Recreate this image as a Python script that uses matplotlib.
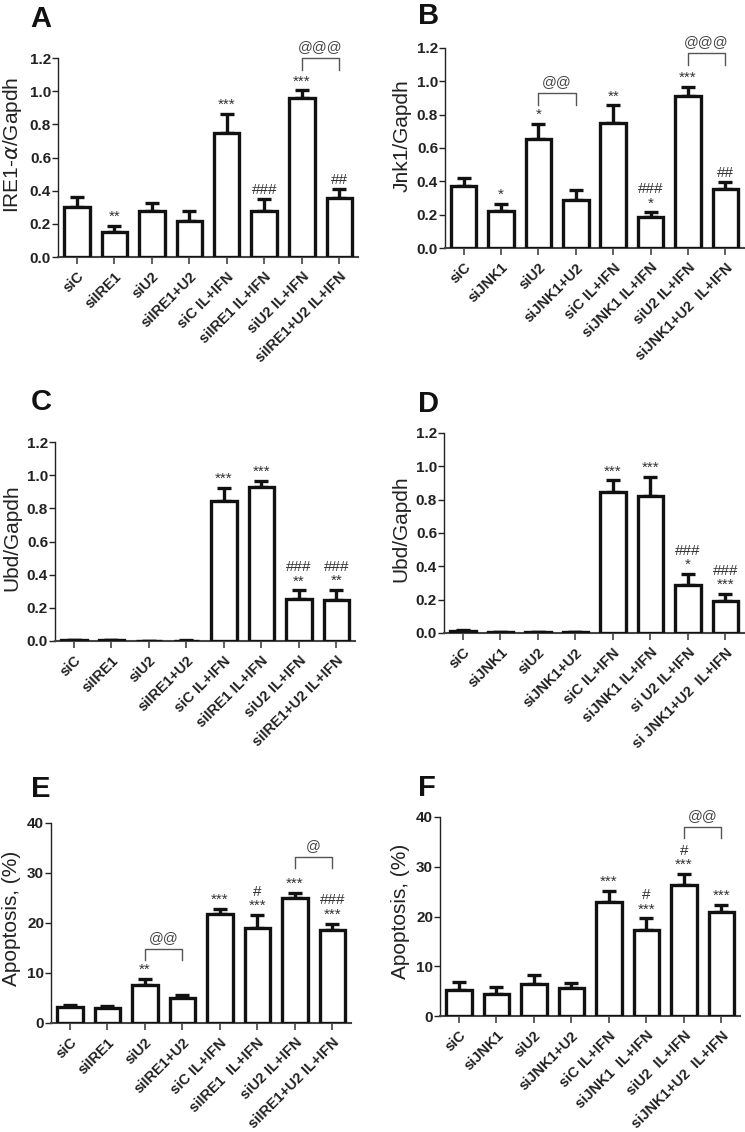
import matplotlib
matplotlib.use("Agg")
import matplotlib.pyplot as plt
import numpy as np

plt.rcParams['font.family'] = ['Liberation Sans', 'DejaVu Sans']
plt.rcParams['mathtext.fontset'] = 'dejavusans'

# ---- data ----
labels_a = ["siC", "siIRE1", "siU2", "siIRE1+U2", "siC IL+IFN", "siIRE1 IL+IFN",
            "siU2 IL+IFN", "siIRE1+U2 IL+IFN"]
mean_a = [0.30, 0.15, 0.28, 0.215, 0.745, 0.275, 0.96, 0.355]
err_a = [0.06, 0.037, 0.045, 0.065, 0.12, 0.072, 0.045, 0.055]
stars_a = ["", "**", "", "", "***", "###", "***", "##"]

labels_b = ["siC", "siJNK1", "siU2", "siJNK1+U2", "siC IL+IFN", "siJNK1 IL+IFN",
            "siU2 IL+IFN", "siJNK1+U2  IL+IFN"]
mean_b = [0.37, 0.22, 0.655, 0.285, 0.75, 0.185, 0.91, 0.355]
err_b = [0.05, 0.045, 0.09, 0.06, 0.105, 0.028, 0.058, 0.042]
stars_b = ["", "*", "*", "", "**", "###\n*", "***", "##"]

labels_c = ["siC", "siIRE1", "siU2", "siIRE1+U2", "siC IL+IFN", "siIRE1 IL+IFN",
            "siU2 IL+IFN", "siIRE1+U2 IL+IFN"]
mean_c = [0.004, 0.004, 0.0, 0.003, 0.845, 0.93, 0.255, 0.245]
err_c = [0.002, 0.002, 0.0, 0.002, 0.077, 0.035, 0.05, 0.065]
stars_c = ["", "", "", "", "***", "***", "###\n**", "###\n**"]

labels_d = ["siC", "siJNK1", "siU2", "siJNK1+U2", "siC IL+IFN", "siJNK1 IL+IFN",
            "si U2 IL+IFN", "si JNK1+U2  IL+IFN"]
mean_d = [0.01, 0.004, 0.004, 0.005, 0.845, 0.82, 0.29, 0.19]
err_d = [0.005, 0.002, 0.002, 0.002, 0.07, 0.115, 0.065, 0.045]
stars_d = ["", "", "", "", "***", "***", "###\n*", "###\n***"]

labels_e = ["siC", "siIRE1", "siU2", "siIRE1+U2", "siC IL+IFN", "siIRE1  IL+IFN",
            "siU2 IL+IFN", "siIRE1+U2 IL+IFN"]
mean_e = [3.2, 3.0, 7.7, 5.0, 21.8, 19.1, 25.0, 18.7]
err_e = [0.4, 0.5, 1.2, 0.6, 1.0, 2.5, 1.1, 1.2]
stars_e = ["", "", "**", "", "***", "#\n***", "***", "###\n***"]

labels_f = ["siC", "siJNK1", "siU2", "siJNK1+U2", "siC IL+IFN", "siJNK1  IL+IFN",
            "siU2  IL+IFN", "siJNK1+U2  IL+IFN"]
mean_f = [5.2, 4.4, 6.5, 5.7, 22.9, 17.3, 26.4, 20.9]
err_f = [1.6, 1.5, 1.7, 1.0, 2.2, 2.3, 2.1, 1.5]
stars_f = ["", "", "", "", "***", "#\n***", "#\n***", "***"]

# brackets: (bar i, bar j, top y, leg drop, text)
brackets_a = [(6, 7, 1.2, 0.07, "@@@")]
brackets_b = [(2, 3, 0.93, 0.07, "@@"), (6, 7, 1.17, 0.07, "@@@")]
brackets_e = [(2, 3, 14.8, 2.2, "@@"), (6, 7, 33.2, 2.2, "@")]
brackets_f = [(6, 7, 38.0, 2.2, "@@")]

W, H = 745, 1132
fig = plt.figure(figsize=(W / 100, H / 100), dpi=100)


def make_axes(left, right, y0, scale, ytop):
    top = y0 - ytop * scale
    return fig.add_axes([left / W, 1 - y0 / H, (right - left) / W, (y0 - top) / H])


def panel(ax, labels, mean, err, stars, brackets, ylabel, ymax, ystep, ytop, fmt):
    x = np.arange(len(labels))
    ax.bar(x, mean, width=0.68, color='white', edgecolor='#111111', linewidth=2.4, zorder=3)
    ax.errorbar(x, mean, yerr=[np.zeros(len(err)), err], fmt='none', ecolor='#111111',
                elinewidth=2.4, capsize=5, capthick=2.4, zorder=2)
    for xi, m, e, s in zip(x, mean, err, stars):
        if s:
            ax.annotate(s, xy=(xi, m + e), xytext=(0, 1.5), textcoords='offset points',
                        ha='center', va='bottom', fontsize=11, color='#333333',
                        linespacing=1.0, annotation_clip=False)
    for i, j, yt, drop, txt in brackets:
        ax.plot([i, i, j, j], [yt - drop, yt, yt, yt - drop], color='#555555', lw=1,
                clip_on=False)
        ax.annotate(txt, xy=((i + j) / 2, yt), xytext=(0, 3), textcoords='offset points',
                    ha='center', va='bottom', fontsize=10.5, color='#444444',
                    annotation_clip=False)
    ax.set_xlim(-0.5, len(labels) - 0.5)
    ax.set_ylim(0, ytop)
    ticks = np.arange(0, ymax + ystep / 2, ystep)
    ax.set_yticks(ticks)
    ax.set_yticklabels([fmt.format(t) for t in ticks], fontweight='bold', fontsize=11)
    ax.set_xticks(x)
    ax.set_xticklabels(labels, rotation=45, ha='right', rotation_mode='anchor',
                       fontweight='bold', fontsize=10.5)
    for sp in ['top', 'right']:
        ax.spines[sp].set_visible(False)
    ax.spines['left'].set_bounds(0, ymax)
    ax.spines['left'].set_linewidth(1.0)
    ax.spines['bottom'].set_linewidth(1.5)
    ax.spines['left'].set_color('#222222')
    ax.spines['bottom'].set_color('#444444')
    ax.tick_params(axis='y', length=4, width=1, pad=1, colors='#222222')
    ax.tick_params(axis='x', length=5, width=1.2, pad=4, colors='#444444')
    for t in ax.get_xticklabels() + ax.get_yticklabels():
        t.set_color('#222222')
    ax.set_ylabel(ylabel, fontsize=15, labelpad=4, color='#222222')


ax_a = make_axes(58, 358, 257, 165.8, 1.35)
panel(ax_a, labels_a, mean_a, err_a, stars_a, brackets_a, r'IRE1-$\alpha$/Gapdh', 1.2, 0.2, 1.35, '{:.1f}')
ax_b = make_axes(445, 744, 248, 166.7, 1.35)
panel(ax_b, labels_b, mean_b, err_b, stars_b, brackets_b, 'Jnk1/Gapdh', 1.2, 0.2, 1.35, '{:.1f}')
ax_c = make_axes(55, 355, 641, 165.8, 1.25)
panel(ax_c, labels_c, mean_c, err_c, stars_c, [], 'Ubd/Gapdh', 1.2, 0.2, 1.25, '{:.1f}')
ax_d = make_axes(444, 744, 633, 166.7, 1.25)
panel(ax_d, labels_d, mean_d, err_d, stars_d, [], 'Ubd/Gapdh', 1.2, 0.2, 1.25, '{:.1f}')
ax_e = make_axes(51, 351, 1023, 5.0, 42)
panel(ax_e, labels_e, mean_e, err_e, stars_e, brackets_e, 'Apoptosis, (%)', 40, 10, 42, '{:.0f}')
ax_f = make_axes(440, 740, 1016, 4.975, 42)
panel(ax_f, labels_f, mean_f, err_f, stars_f, brackets_f, 'Apoptosis, (%)', 40, 10, 42, '{:.0f}')

for letter, px, py in [('A', 30, 27), ('B', 418, 24), ('C', 31, 410),
                       ('D', 418, 412), ('E', 31, 797), ('F', 418, 796)]:
    fig.text(px / W, 1 - py / H, letter, fontsize=21, fontweight='bold',
             va='baseline', ha='left', color='#111111')

fig.savefig('out.png', dpi=100)
